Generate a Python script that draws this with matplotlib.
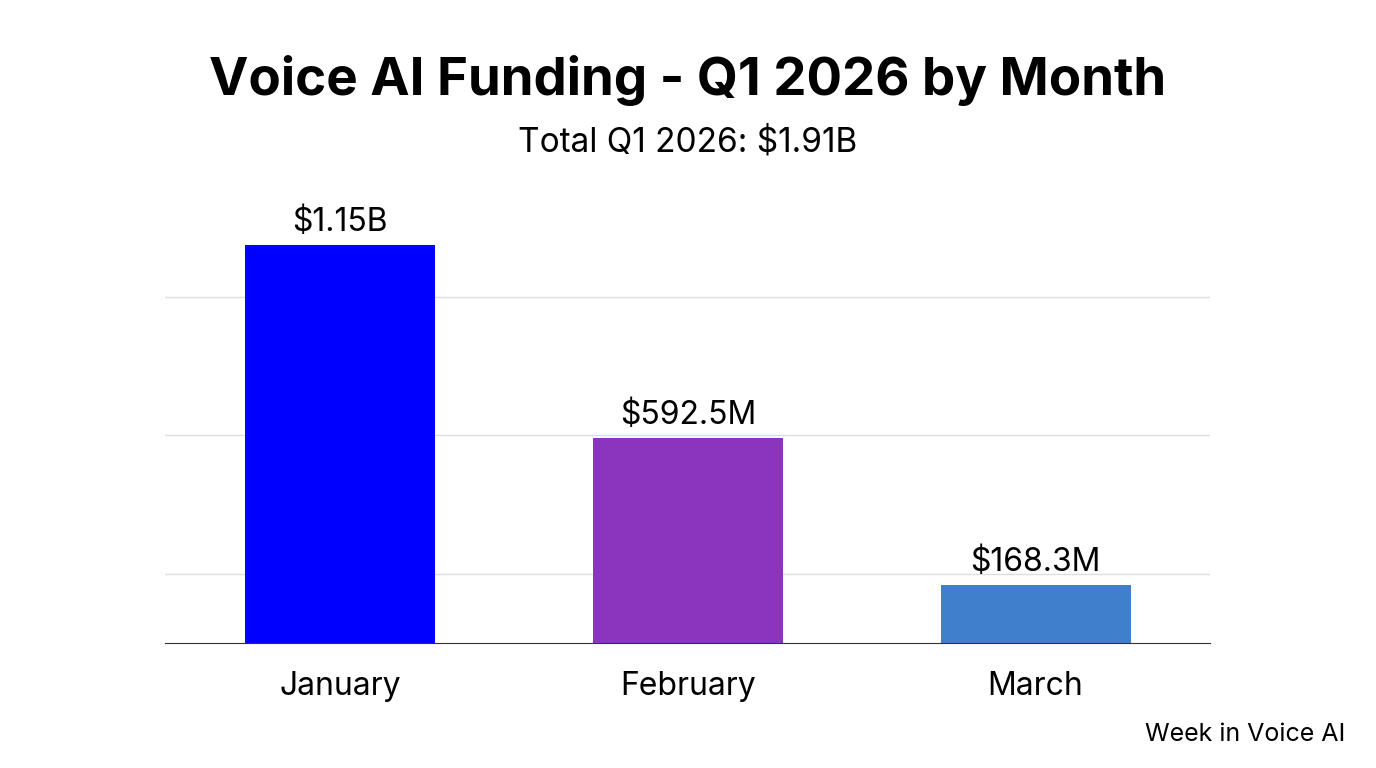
import matplotlib.pyplot as plt

plt.rcParams['font.family'] = ['Inter', 'DejaVu Sans']

months = ['January', 'February', 'March']
values = [1.15, 0.5925, 0.1683]  # billions USD
labels = ['$1.15B', '$592.5M', '$168.3M']
colors = ['#0000FF', '#8B35BE', '#3F7FCC']

fig = plt.figure(figsize=(13.76, 7.68), dpi=100)
ax = fig.add_axes([0.12, 0.163, 0.759, 0.577])

x = range(len(months))
bars = ax.bar(x, values, width=0.546, color=colors, zorder=2)
for b, lab in zip(bars, labels):
    ax.text(b.get_x() + b.get_width() / 2, b.get_height() + 0.018, lab,
            ha='center', va='bottom', fontsize=23)

ax.set_xlim(-0.503, 2.5)
ax.set_ylim(0, 1.28)
ax.set_yticks([0.2, 0.6, 1.0])
ax.yaxis.grid(True, color='#DDDDDD', linewidth=1, zorder=0)
ax.tick_params(axis='y', left=False, labelleft=False)
ax.set_xticks(list(x))
ax.set_xticklabels(months, fontsize=23)
ax.tick_params(axis='x', length=0, pad=20)
for s in ['top', 'right', 'left']:
    ax.spines[s].set_visible(False)
ax.spines['bottom'].set_color('#333333')

fig.text(0.5, 0.895, 'Voice AI Funding - Q1 2026 by Month', ha='center', va='center',
         fontsize=38, fontweight='bold')
fig.text(0.5, 0.815, 'Total Q1 2026: $1.91B', ha='center', va='center', fontsize=24)
fig.text(0.978, 0.043, 'Week in Voice AI', ha='right', va='center', fontsize=18)

fig.savefig('out.png', dpi=100, facecolor='white')
